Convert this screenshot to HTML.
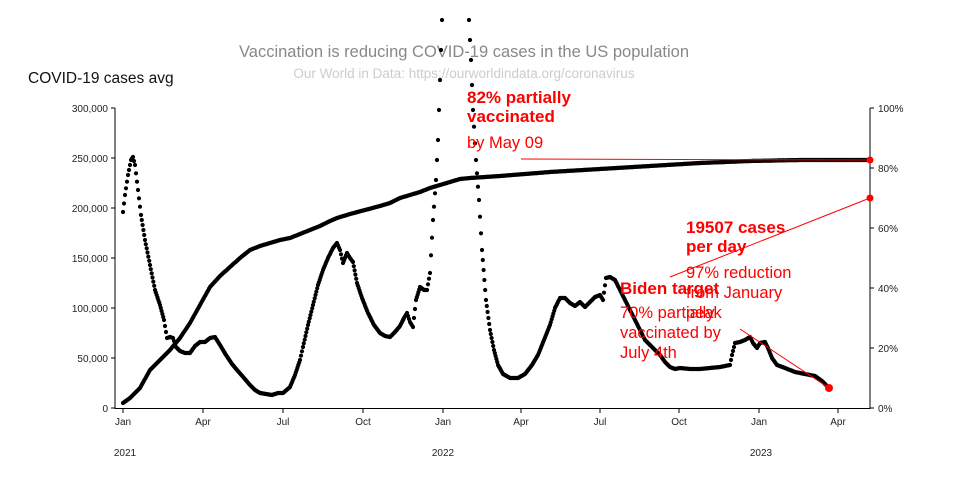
<!DOCTYPE html>
<html><head><meta charset="utf-8"><style>
body{margin:0;background:#fff;}
svg{display:block;font-family:"Liberation Sans",sans-serif;}
.t{font-size:10px;fill:#222;}
.r{fill:#f00;font-size:16.5px;}
.b{font-weight:bold;font-size:17px;}
</style></head><body>
<svg id="s" width="960" height="500" viewBox="0 0 960 500">
<text x="464" y="57" text-anchor="middle" font-size="16.5" fill="#888">Vaccination is reducing COVID-19 cases in the US population</text>
<text x="464" y="78" text-anchor="middle" font-size="13.5" fill="#ccc">Our World in Data: https://ourworldindata.org/coronavirus</text>
<text x="28" y="83" font-size="15.5" fill="#111">COVID-19 cases avg</text>
<line x1="115" y1="108" x2="115" y2="409" stroke="#000"/>
<line x1="870" y1="108" x2="870" y2="409" stroke="#000"/>
<line x1="115" y1="408.5" x2="870" y2="408.5" stroke="#000"/>
<g stroke="#000">
<line x1="111" x2="115" y1="108" y2="108"/><line x1="111" x2="115" y1="158" y2="158"/><line x1="111" x2="115" y1="208" y2="208"/><line x1="111" x2="115" y1="258" y2="258"/><line x1="111" x2="115" y1="308" y2="308"/><line x1="111" x2="115" y1="358" y2="358"/><line x1="111" x2="115" y1="408" y2="408"/>
<line x1="870" x2="874" y1="108" y2="108"/><line x1="870" x2="874" y1="168" y2="168"/><line x1="870" x2="874" y1="228" y2="228"/><line x1="870" x2="874" y1="288" y2="288"/><line x1="870" x2="874" y1="348" y2="348"/><line x1="870" x2="874" y1="408" y2="408"/>
<line x1="123" x2="123" y1="409" y2="413"/><line x1="203" x2="203" y1="409" y2="413"/><line x1="283" x2="283" y1="409" y2="413"/><line x1="363" x2="363" y1="409" y2="413"/><line x1="443" x2="443" y1="409" y2="413"/><line x1="521" x2="521" y1="409" y2="413"/><line x1="600" x2="600" y1="409" y2="413"/><line x1="679" x2="679" y1="409" y2="413"/><line x1="759" x2="759" y1="409" y2="413"/><line x1="838" x2="838" y1="409" y2="413"/>
</g>
<g class="t" text-anchor="end">
<text x="108" y="112">300,000</text><text x="108" y="162">250,000</text><text x="108" y="212">200,000</text><text x="108" y="262">150,000</text><text x="108" y="312">100,000</text><text x="108" y="362">50,000</text><text x="108" y="412">0</text>
</g>
<g class="t">
<text x="878" y="112">100%</text><text x="878" y="172">80%</text><text x="878" y="232">60%</text><text x="878" y="292">40%</text><text x="878" y="352">20%</text><text x="878" y="412">0%</text>
</g>
<g class="t" text-anchor="middle">
<text x="123" y="425">Jan</text><text x="203" y="425">Apr</text><text x="283" y="425">Jul</text><text x="363" y="425">Oct</text><text x="443" y="425">Jan</text><text x="521" y="425">Apr</text><text x="600" y="425">Jul</text><text x="679" y="425">Oct</text><text x="759" y="425">Jan</text><text x="838" y="425">Apr</text>
<text x="125" y="456">2021</text><text x="443" y="456">2022</text><text x="761" y="456">2023</text>
</g>
<g id="dots" fill="#000"></g>
<g stroke="#f00" stroke-width="1" fill="none">
<line x1="521" y1="159" x2="870" y2="160"/>
<line x1="670" y1="277" x2="870" y2="198"/>
<line x1="740" y1="329" x2="829" y2="388"/>
</g>
<circle cx="870" cy="160" r="3.5" fill="#f00"/>
<circle cx="870" cy="198" r="3.5" fill="#f00"/>
<circle cx="829" cy="388" r="4" fill="#f00"/>
<g class="r">
<text x="467" y="103" class="b">82% partially</text>
<text x="467" y="122" class="b">vaccinated</text>
<text x="467" y="148">by May 09</text>
<text x="686" y="233" class="b">19507 cases</text>
<text x="686" y="252" class="b">per day</text>
<text x="686" y="278">97% reduction</text>
<text x="686" y="298">from January</text>
<text x="686" y="318">peak</text>
<text x="620" y="294" class="b">Biden target</text>
<text x="620" y="318">70% partially</text>
<text x="620" y="338">vaccinated by</text>
<text x="620" y="358">July 4th</text>
</g>
</svg>
<script>
var c1=[[123,212],[125,195],[128,175],[131,160],[133,157],[135,165],[138,190],[141,215],[145,240],[150,265],[155,290],[160,305],[164,320],[167,338],[170,337],[173,338],[176,347],[180,351],[185,353],[190,353],[195,346],[200,342],[205,342],[210,338],[215,337],[220,345],[226,355],[232,364],[237,370],[244,378],[250,385],[255,390],[260,393],[266,394],[272,395],[278,393],[283,393],[290,387],[295,375],[300,360],[303,347],[308,325],[313,305],[318,285],[323,270],[328,258],[333,248],[337,243],[340,250],[343,263],[347,253],[350,258],[353,262],[357,283],[362,298],[368,313],[374,325],[380,333],[385,336],[390,337],[395,332],[400,326],[404,318],[407,313],[410,322],[413,327],[416,300],[420,287],[424,290],[427,290],[430,273],[433,220],[436,180],[438,140],[440,80],[442,20]];
var c2=[[469,20],[471,60],[473,110],[476,160],[479,200],[482,250],[486,300],[490,330],[494,350],[498,365],[503,374],[510,378],[518,378],[525,374],[532,365],[538,355],[544,340],[550,325],[555,308],[560,298],[565,298],[570,303],[575,306],[580,302],[585,307],[590,302],[595,297],[600,295],[603,300],[606,278],[610,277],[615,280],[620,290],[625,300],[630,310],[635,320],[640,330],[645,340],[650,345],[655,350],[660,355],[665,362],[670,367],[675,369],[680,368],[690,369],[700,369],[710,368],[720,367],[730,365],[732,355],[735,343],[740,342],[745,340],[750,337],[753,343],[757,348],[760,343],[765,342],[768,348],[772,358],[777,365],[785,368],[795,372],[805,374],[815,376],[822,381],[828,387]];
var v=[[123,403],[130,398],[140,388],[150,370],[160,360],[170,350],[180,338],[190,323],[200,305],[210,287],[220,276],[230,267],[240,258],[250,250],[260,246],[270,243],[280,240],[290,238],[300,234],[310,230],[320,226],[330,221],[337,218],[350,214],[365,210],[380,206],[390,203],[400,198],[410,195],[420,192],[430,188],[440,185],[450,182],[460,179],[470,178],[500,176],[550,172],[600,169],[650,166],[700,163],[750,161],[800,160],[870,160]];
var g=document.getElementById('dots'),h='';
function draw(p){for(var i=0;i<p.length-1;i++){var a=p[i],b=p[i+1],dx=b[0]-a[0],n=Math.max(1,Math.round(dx/0.877));for(var k=0;k<n;k++){var t=k/n;h+='<circle cx="'+(a[0]+dx*t).toFixed(1)+'" cy="'+(a[1]+(b[1]-a[1])*t).toFixed(1)+'" r="2.1"/>';}}var l=p[p.length-1];h+='<circle cx="'+l[0]+'" cy="'+l[1]+'" r="2.1"/>';}
draw(c1);draw(c2);draw(v);g.innerHTML=h;
</script>
</body></html>
